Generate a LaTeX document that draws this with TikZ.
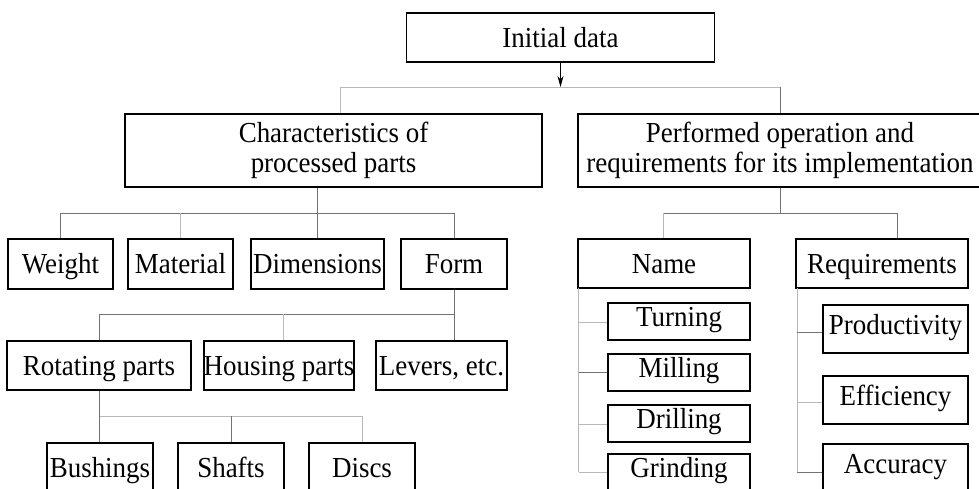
\documentclass[tikz,border=0pt]{standalone}
\usepackage{fontspec}
\setmainfont{Liberation Serif}[FakeStretch=0.93]
\usetikzlibrary{arrows.meta}
\begin{document}
\begin{tikzpicture}[x=1pt,y=-1pt,
  box/.style={draw=black, line width=1.9pt, inner sep=0pt, align=center,
    font=\fontsize{29}{30}\selectfont},
  oneline/.style={box, text height=21pt, text depth=2pt},
  listbox/.style={box, text height=21pt, text depth=11pt},
  link/.style={draw=black!55, line width=0.8pt},
  linklight/.style={draw=black!28, line width=0.8pt},
  arr/.style={-{Stealth[length=11pt,width=6pt]}, draw=black, line width=0.8pt}]
\useasboundingbox (0,0) rectangle (979,488);

% top level
\node[oneline, minimum width=308pt, minimum height=49pt] (init) at (560.5,37.5) {Initial data};
\node[box, minimum width=417pt, minimum height=73pt] (chars) at (333.5,150.5)
  {Characteristics of\\processed parts};
\node[box, minimum width=404pt, minimum height=73pt] (perf) at (780,150.5)
  {Performed operation and\\requirements for its implementation};

% characteristics
\node[oneline, minimum width=105pt, minimum height=50pt] (weight) at (60.5,264) {Weight};
\node[oneline, minimum width=105pt, minimum height=50pt] (material) at (180.5,264) {Material};
\node[oneline, minimum width=133pt, minimum height=50pt] (dims) at (317.5,264) {Dimensions};
\node[oneline, minimum width=106pt, minimum height=50pt] (form) at (454,264) {Form};

% form
\node[oneline, minimum width=184pt, minimum height=49pt] (rot) at (99,365.5) {Rotating parts};
\node[oneline, minimum width=150pt, minimum height=49pt] (housing) at (279,365.5) {Housing parts};
\node[oneline, minimum width=131pt, minimum height=49pt] (levers) at (441.5,365.5) {Levers, etc.};

% rotating parts
\node[oneline, minimum width=106pt, minimum height=49pt] (bushings) at (100,467.5) {Bushings};
\node[oneline, minimum width=106pt, minimum height=49pt] (shafts) at (231,467.5) {Shafts};
\node[oneline, minimum width=106pt, minimum height=49pt] (discs) at (362,467.5) {Discs};

% operation
\node[oneline, minimum width=172pt, minimum height=49pt] (name) at (664,263.5) {Name};
\node[oneline, minimum width=172pt, minimum height=49pt] (req) at (882,263.5) {Requirements};

\node[listbox, minimum width=142pt, minimum height=37pt] (turning) at (679,321.5) {Turning};
\node[listbox, minimum width=142pt, minimum height=37pt] (milling) at (679,372.5) {Milling};
\node[listbox, minimum width=142pt, minimum height=37pt] (drilling) at (679,423.5) {Drilling};
\node[listbox, minimum width=142pt, minimum height=37pt] (grinding) at (679,472.5) {Grinding};

\node[listbox, minimum width=145pt, minimum height=48pt] (prod) at (895.5,329) {Productivity};
\node[listbox, minimum width=145pt, minimum height=48pt] (eff) at (895.5,400) {Efficiency};
\node[listbox, minimum width=145pt, minimum height=48pt] (acc) at (895.5,468) {Accuracy};

% level 1 connectors
\coordinate (j0) at (560.5,87);
\coordinate (b1l) at (340.7,87);
\coordinate (b1r) at (780,87);
\draw[linklight] (b1l) -- (b1r);
\draw[linklight] (b1l) -- (b1l |- chars.north);
\draw[link] (b1r) -- (perf.north);
\draw[arr] (init.south) -- (j0);

% characteristics connectors
\coordinate (c1) at (317.7,213);
\draw[link] (chars.south -| c1) -- (c1);
\draw[link] (weight.north |- c1) -- (form.north |- c1);
\draw[link] (weight.north |- c1) -- (weight.north);
\draw[linklight] (material.north |- c1) -- (material.north);
\draw[link] (c1) -- (dims.north -| c1);
\draw[link] (form.north |- c1) -- (form.north);

% form connectors
\coordinate (f1) at (454,314);
\coordinate (h1) at (283,314);
\draw[link] (form.south) -- (f1);
\draw[link] (rot.north |- f1) -- (f1);
\draw[link] (rot.north |- f1) -- (rot.north);
\draw[linklight] (h1) -- (housing.north -| h1);
\draw[link] (f1) -- (levers.north -| f1);

% rotating parts connectors
\coordinate (r1) at (99,416);
\draw[link] (rot.south) -- (r1);
\draw[linklight] (r1) -- (discs.north |- r1);
\draw[link] (r1) -- (bushings.north -| r1);
\draw[link] (shafts.north |- r1) -- (shafts.north);
\draw[linklight] (discs.north |- r1) -- (discs.north);

% operation connectors
\coordinate (p1) at (780,213);
\coordinate (p2) at (663,213);
\coordinate (p3) at (897,213);
\draw[link] (perf.south) -- (p1);
\draw[link] (p2) -- (p3);
\draw[linklight] (p2) -- (name.north -| p2);
\draw[link] (p3) -- (req.north -| p3);

% name list
\coordinate (n0) at (578.5,288);
\coordinate (nt) at (578.5,322);
\coordinate (nm) at (578.5,372);
\coordinate (nd) at (578.5,424);
\coordinate (ng) at (578.5,472);
\draw[linklight] (n0) -- (ng);
\draw[linklight] (nt) -- (turning.west |- nt);
\draw[link] (nm) -- (milling.west |- nm);
\draw[linklight] (nd) -- (drilling.west |- nd);
\draw[linklight] (ng) -- (grinding.west |- ng);

% requirements list
\coordinate (q0) at (797,288);
\coordinate (qp) at (797,332);
\coordinate (qe) at (797,402);
\coordinate (qa) at (797,472);
\draw[linklight] (q0) -- (qa);
\draw[link] (qp) -- (prod.west |- qp);
\draw[linklight] (qe) -- (eff.west |- qe);
\draw[link] (qa) -- (acc.west |- qa);
\end{tikzpicture}
\end{document}
